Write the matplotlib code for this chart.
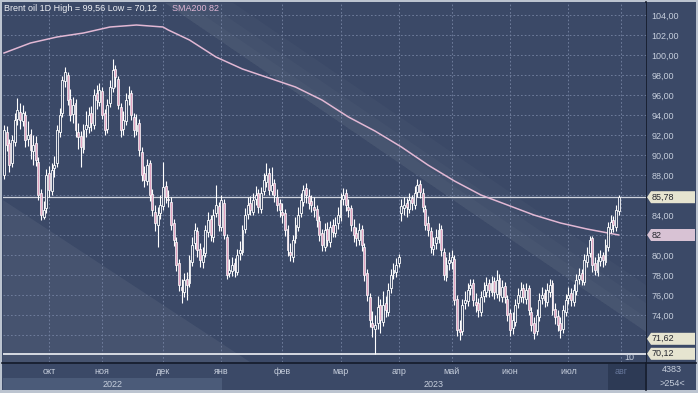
import matplotlib
matplotlib.use('Agg')
import matplotlib.pyplot as plt
import matplotlib.transforms as mtransforms
from matplotlib.patches import Polygon, Rectangle

plt.rcParams['font.family'] = ['Liberation Sans', 'DejaVu Sans']

# daily Brent candles, Sep 2022 .. Jul 2023
opens = [88.0, 92.3, 91.2, 89.2, 91.3, 93.6, 94.3, 93.4, 94.0, 91.6,
         92.1, 90.4, 91.2, 89.3, 86.2, 83.8, 84.7, 88.2, 86.4, 88.7,
         89.2, 92.3, 94.2, 97.4, 98.0, 95.6, 94.1, 95.2, 92.3, 91.9,
         90.6, 92.6, 92.8, 94.2, 93.0, 96.2, 95.3, 96.4, 94.2, 92.6,
         95.2, 96.7, 98.6, 97.6, 94.8, 92.6, 93.4, 95.7, 96.2, 93.8,
         92.4, 93.2, 90.3, 88.2, 87.4, 89.2, 86.1, 84.3, 83.0, 84.2,
         84.9, 86.9, 85.6, 85.3, 83.2, 81.3, 79.2, 76.8, 76.3, 77.6,
         77.2, 79.3, 81.2, 82.4, 80.6, 79.3, 80.2, 82.3, 83.6, 81.8,
         84.2, 84.9, 82.8, 85.2, 81.8, 78.2, 78.4, 79.2, 78.3, 80.2,
         80.3, 82.6, 84.1, 85.2, 84.3, 85.6, 86.2, 84.6, 86.4, 87.3,
         88.2, 86.4, 87.2, 85.8, 85.2, 84.3, 84.2, 82.6, 80.3, 79.8,
         81.7, 82.8, 84.2, 85.3, 86.7, 85.9, 85.4, 84.8, 84.6, 83.4,
         82.2, 80.8, 82.6, 81.3, 83.0, 82.2, 83.2, 83.8, 85.6, 86.2,
         84.8, 84.7, 82.8, 82.2, 81.5, 82.6, 80.8, 78.2, 75.8, 73.2,
         72.6, 73.2, 75.0, 73.3, 75.2, 74.3, 76.7, 78.2, 78.3, 79.2,
         84.2, 84.7, 85.2, 84.6, 85.7, 85.0, 86.3, 87.1, 86.2, 84.6,
         83.2, 82.4, 80.6, 81.2, 81.6, 82.6, 80.3, 77.8, 79.2, 79.3,
         79.6, 75.6, 72.6, 72.4, 75.2, 75.4, 76.7, 77.2, 75.3, 75.2,
         74.3, 75.9, 76.3, 77.2, 76.3, 77.4, 76.1, 77.7, 75.8, 76.9,
         75.6, 74.2, 72.7, 73.3, 75.2, 75.8, 76.7, 75.6, 76.7, 74.3,
         73.2, 72.4, 73.8, 75.7, 76.2, 75.3, 76.3, 77.2, 74.6, 73.9,
         73.2, 72.6, 74.3, 75.7, 76.2, 75.3, 76.4, 77.6, 78.2, 77.3,
         79.3, 80.2, 81.7, 79.2, 78.3, 79.4, 80.0, 79.3, 80.8, 82.6,
         83.5, 82.8, 84.4]
highs = [93.0, 92.9, 91.6, 92.0, 94.2, 95.7, 95.2, 95.0, 94.4, 93.4,
         92.6, 92.0, 91.9, 89.8, 86.6, 85.4, 88.6, 88.9, 89.2, 89.9,
         93.0, 94.7, 97.9, 98.8, 98.3, 96.6, 95.8, 95.6, 93.2, 92.4,
         93.1, 94.4, 94.8, 94.9, 96.6, 97.0, 97.2, 96.8, 94.6, 95.6,
         97.5, 99.56, 99.0, 97.9, 95.2, 94.4, 96.2, 96.9, 96.5, 94.2,
         94.1, 93.6, 90.8, 88.9, 89.6, 89.5, 86.6, 85.0, 84.8, 86.0,
         89.3, 87.4, 86.5, 85.8, 83.6, 81.8, 79.6, 77.6, 78.2, 78.3,
         80.0, 81.8, 83.2, 82.8, 81.2, 80.8, 83.0, 84.3, 84.0, 84.6,
         87.0, 85.3, 86.0, 85.6, 82.1, 79.6, 79.8, 79.7, 80.6, 81.4,
         83.0, 84.7, 85.8, 85.9, 86.2, 86.9, 86.6, 86.8, 88.2, 89.2,
         88.7, 88.8, 87.6, 86.6, 85.6, 85.2, 84.6, 83.0, 81.2, 82.0,
         83.8, 84.8, 86.2, 87.0, 87.2, 86.6, 86.0, 85.8, 85.0, 83.9,
         82.6, 83.2, 83.3, 83.4, 83.6, 83.8, 84.8, 86.2, 86.7, 86.6,
         85.6, 85.0, 83.6, 82.8, 83.2, 83.0, 81.2, 78.6, 76.2, 74.4,
         74.0, 75.9, 75.6, 76.4, 75.9, 77.2, 78.6, 79.2, 79.7, 80.1,
         85.6, 85.8, 85.7, 86.2, 86.0, 86.9, 87.6, 87.5, 86.7, 85.0,
         83.9, 82.8, 81.8, 82.6, 83.2, 83.0, 80.7, 79.8, 80.3, 80.5,
         80.0, 76.0, 73.5, 75.6, 76.4, 77.2, 77.6, 77.6, 76.2, 75.7,
         76.4, 77.3, 77.8, 77.6, 77.9, 77.8, 78.5, 78.1, 77.5, 77.3,
         76.0, 74.6, 74.3, 75.6, 76.7, 77.3, 77.1, 77.2, 77.0, 74.8,
         73.8, 74.6, 76.2, 76.8, 76.6, 77.2, 77.6, 77.5, 75.2, 74.5,
         73.8, 75.0, 76.1, 76.8, 76.7, 77.1, 78.1, 78.7, 78.6, 80.1,
         80.8, 81.9, 81.9, 79.8, 80.2, 80.5, 80.3, 81.6, 83.3, 84.0,
         83.9, 85.0, 86.0]
lows = [87.6, 90.4, 88.3, 88.8, 90.9, 93.0, 92.6, 92.9, 90.8, 90.9,
        89.6, 89.0, 88.9, 85.5, 83.5, 83.6, 84.2, 85.8, 86.0, 87.8,
        88.8, 91.8, 93.8, 96.8, 95.0, 93.4, 93.2, 91.8, 90.6, 88.8,
        90.2, 91.8, 92.2, 92.4, 92.6, 94.6, 94.9, 93.6, 92.0, 92.2,
        94.8, 96.3, 96.8, 94.6, 91.8, 92.0, 93.0, 95.0, 93.5, 91.8,
        92.0, 89.9, 87.4, 86.8, 87.0, 85.4, 83.9, 82.4, 80.8, 83.6,
        84.5, 85.2, 84.8, 82.5, 80.9, 78.4, 76.4, 75.2, 75.8, 75.5,
        76.8, 78.9, 80.6, 79.8, 78.8, 78.7, 79.8, 81.8, 81.4, 81.3,
        83.8, 82.4, 82.4, 81.6, 77.6, 77.8, 77.9, 77.8, 78.0, 79.5,
        80.0, 82.2, 83.6, 84.0, 84.0, 85.0, 84.2, 84.2, 86.0, 86.8,
        86.0, 86.0, 85.3, 84.4, 83.8, 83.2, 81.9, 79.9, 79.4, 79.3,
        81.2, 82.4, 83.8, 84.9, 85.2, 84.6, 84.3, 83.8, 82.8, 81.4,
        80.4, 80.4, 80.9, 80.8, 81.8, 81.8, 82.6, 83.4, 85.0, 84.4,
        83.8, 82.4, 81.3, 80.9, 81.0, 80.4, 77.4, 75.4, 72.8, 71.8,
        70.12, 72.6, 72.2, 72.9, 73.8, 73.9, 76.2, 77.6, 77.8, 78.8,
        83.4, 84.0, 83.8, 84.2, 84.5, 84.6, 85.8, 85.7, 84.3, 82.5,
        81.9, 80.2, 80.0, 80.6, 81.2, 79.9, 77.5, 77.4, 78.5, 78.6,
        75.0, 71.9, 71.5, 72.0, 74.6, 74.9, 76.0, 74.9, 74.3, 73.8,
        73.9, 75.3, 75.8, 75.8, 75.9, 75.6, 75.7, 75.4, 75.3, 75.2,
        73.4, 71.9, 72.1, 72.9, 74.7, 75.3, 75.2, 75.1, 74.0, 72.4,
        71.6, 72.0, 73.4, 75.1, 74.8, 74.9, 75.8, 74.0, 73.1, 72.4,
        71.7, 72.2, 73.9, 75.1, 74.9, 74.9, 76.0, 77.1, 77.0, 77.0,
        78.8, 79.8, 78.3, 78.0, 77.9, 78.9, 78.8, 79.0, 80.4, 82.2,
        82.3, 82.4, 84.0]
closes = [92.5, 91.0, 89.0, 91.5, 93.5, 94.5, 93.5, 94.2, 91.5, 92.0,
          90.5, 91.0, 89.5, 86.0, 84.0, 84.5, 88.0, 86.5, 88.5, 89.0,
          92.5, 94.0, 97.5, 98.3, 95.5, 94.0, 95.0, 92.5, 91.8, 90.8,
          92.5, 93.0, 94.0, 93.2, 96.0, 95.5, 96.5, 94.0, 92.5, 95.0,
          96.8, 98.5, 97.8, 95.0, 92.5, 93.5, 95.5, 96.0, 94.0, 92.5,
          93.0, 90.5, 88.0, 87.5, 89.0, 86.0, 84.5, 83.2, 84.0, 85.0,
          86.8, 85.8, 85.5, 83.0, 81.5, 79.0, 77.0, 76.5, 77.5, 77.0,
          79.5, 81.0, 82.5, 80.5, 79.5, 80.0, 82.5, 83.5, 82.0, 84.0,
          85.0, 83.0, 85.5, 82.0, 78.0, 78.5, 79.0, 78.5, 80.0, 80.5,
          82.5, 84.0, 85.0, 84.5, 85.5, 86.0, 84.8, 86.2, 87.5, 88.0,
          86.5, 87.0, 86.0, 85.0, 84.5, 84.0, 82.5, 80.5, 80.0, 81.5,
          83.0, 84.0, 85.5, 86.5, 86.0, 85.2, 85.0, 84.5, 83.5, 82.0,
          81.0, 82.5, 81.5, 82.8, 82.3, 83.0, 84.0, 85.5, 86.0, 85.0,
          84.5, 83.0, 82.0, 81.7, 82.5, 81.0, 78.0, 76.0, 73.5, 72.8,
          73.0, 74.8, 73.5, 75.0, 74.5, 76.5, 78.0, 78.5, 79.0, 79.8,
          84.9, 85.0, 84.8, 85.5, 85.2, 86.2, 87.0, 86.3, 84.8, 83.0,
          82.5, 80.8, 81.0, 81.8, 82.5, 80.5, 78.0, 79.0, 79.5, 79.8,
          75.5, 72.5, 72.3, 75.0, 75.5, 76.5, 77.0, 75.5, 75.0, 74.5,
          75.8, 76.5, 77.0, 76.5, 77.2, 76.3, 77.5, 76.0, 76.8, 75.8,
          74.0, 72.5, 73.5, 75.0, 76.0, 76.5, 75.8, 76.5, 74.5, 73.0,
          72.2, 74.0, 75.5, 76.0, 75.5, 76.5, 77.0, 74.5, 73.8, 73.0,
          72.5, 74.5, 75.5, 76.0, 75.5, 76.5, 77.5, 78.0, 77.5, 79.5,
          80.0, 81.5, 79.0, 78.5, 79.5, 79.8, 79.5, 81.0, 82.8, 83.3,
          83.0, 84.5, 85.78]

# SMA200 read at every ~10th bar
sma_idx = [0, 10, 20, 30, 40, 50, 60, 62, 70, 80, 90, 100, 110, 120, 130,
           140, 150, 160, 170, 180, 190, 200, 210, 220, 232]
sma_val = [100.2, 101.2, 101.8, 102.2, 102.8, 103.0, 102.8, 102.5, 101.5,
           99.8, 98.6, 97.7, 96.8, 95.5, 93.8, 92.4, 90.8, 89.0, 87.4, 86.0,
           85.0, 84.0, 83.2, 82.6, 82.0]

month_idx = [17, 37, 60, 82, 105, 127, 149, 169, 191, 213, 233]
month_lbl = ['окт', 'ноя', 'дек', 'янв', 'фев', 'мар', 'апр', 'май', 'июн', 'июл', 'авг']
year_lbl = ['2022', '2023']

last_price = 85.78
sma_last = 82
tag_71 = 71.62
low_price = 70.12

BG = '#3b4967'
TXT = '#c6cedc'
W, H = 698, 393

fig = plt.figure(figsize=(W / 100, H / 100), dpi=100, facecolor='#bcc4d0')

# window chrome in pixel coordinates
bg = fig.add_axes([0, 0, 1, 1])
bg.set_xlim(0, W)
bg.set_ylim(H, 0)
bg.axis('off')
def box(x0, y0, x1, y1, c):
    bg.add_patch(Rectangle((x0, y0), x1 - x0, y1 - y0, facecolor=c, edgecolor='none'))
box(2, 2, 696, 390, BG)
box(3, 378, 222, 390, '#4b5b79')
box(608, 364, 645, 390, '#2d3a55')
bg.plot([646, 646], [2, 390], color='#141b2a', lw=1.2)
bg.plot([2, 696], [362.5, 362.5], color='#141b2a', lw=1.2)

ax = fig.add_axes([3 / W, 31 / H, 643 / W, 359 / H])
ax.set_facecolor(BG)
for s in ax.spines.values():
    s.set_visible(False)

# channel shading
slope = (1 - 0.084) / (1 - 0.252)
for d in [0.04, 0.08, 0.13]:
    ax.add_patch(Polygon([(0.252, 1), (1, 0.084), (1, 0.084 + d), (0.252 + d / slope, 1)],
                         closed=True, transform=ax.transAxes, facecolor='white',
                         alpha=0.025, edgecolor='none', zorder=0.5))
ax.add_patch(Polygon([(0, 0.451), (0.384, 0), (0, 0)], closed=True, transform=ax.transAxes,
                     facecolor='white', alpha=0.06, edgecolor='none', zorder=0.5))

# candles
n = len(closes)
idx = list(range(n))
ax.vlines(idx, lows, highs, color='white', lw=0.8, zorder=3)
up = [i for i in idx if closes[i] >= opens[i]]
dn = [i for i in idx if closes[i] < opens[i]]
ax.bar(up, [closes[i] - opens[i] for i in up], bottom=[opens[i] for i in up], width=0.72,
       facecolor=BG, edgecolor='white', lw=0.6, zorder=4)
ax.bar(dn, [opens[i] - closes[i] for i in dn], bottom=[closes[i] for i in dn], width=0.72,
       facecolor='#e2a4c2', edgecolor='white', lw=0.5, zorder=4)

ax.plot(sma_idx, sma_val, color='#e2b8d4', lw=1.1, zorder=2.8)
ax.axhline(last_price, color='#d0d4de', lw=0.9, zorder=2.7)
ax.axhline(low_price, color='#f0f2f6', lw=1.2, zorder=2.7)

ax.set_xlim(-0.38, 242.3)
ax.set_ylim(69.3, 105.2)

# scale labels hidden behind the price tags are left blank
yt = list(range(72, 106, 2))
hidden = [82, 86]
ax.set_yticks(yt)
ax.set_yticklabels(['' if v in hidden else f'{v:.2f}'.replace('.', ',') for v in yt])
ax.yaxis.tick_right()
ax.tick_params(axis='y', length=0, pad=4, labelsize=6.5, labelcolor=TXT)
ax.set_xticks(month_idx)
ax.set_xticklabels(month_lbl)
ax.tick_params(axis='x', length=0, pad=3.5, labelsize=6.5, labelcolor=TXT)
ax.get_xticklabels()[-1].set_color('#66769a')
ax.grid(True, color='#7684a3', ls=(0, (2, 2.5)), lw=0.6, zorder=1)

blend = mtransforms.blended_transform_factory(ax.transData, ax.transAxes)
x0, x1 = ax.get_xlim()
ax.text((x0 + month_idx[3]) / 2, -0.062, year_lbl[0], transform=blend, ha='center',
        va='center', fontsize=6.5, color=TXT, clip_on=False)
ax.text((month_idx[3] + x1) / 2, -0.062, year_lbl[1], transform=blend, ha='center',
        va='center', fontsize=6.5, color=TXT, clip_on=False)

# price tags on the right scale
ident = mtransforms.IdentityTransform()
def tag(val, text, fc):
    yd = ax.transData.transform((0, val))[1]
    ax.add_artist(Polygon([(647, yd), (651, yd + 6), (695, yd + 6), (695, yd - 6), (651, yd - 6)],
                          closed=True, transform=ident, facecolor=fc, edgecolor='none',
                          clip_on=False, zorder=10))
    ax.text(652, yd, text, transform=ident, ha='left', va='center', fontsize=6.5,
            color='#24262e', clip_on=False, zorder=11)
tag(last_price, f'{last_price:.2f}'.replace('.', ','), '#e6e4d0')
tag(sma_last, str(sma_last), '#d8c2d4')
tag(tag_71, f'{tag_71:.2f}'.replace('.', ','), '#e6e4d0')
tag(low_price, f'{low_price:.2f}'.replace('.', ','), '#e6e4d0')

def px(x, y):
    return x / W, 1 - y / H
fig.text(*px(4, 8.5), 'Brent oil 1D High = 99,56 Low = 70,12', fontsize=6.5,
         color='#eef0f5', va='center', ha='left', zorder=20)
fig.text(*px(172, 8.5), f'SMA200 {sma_last}', fontsize=6.5, color='#dfb6d4',
         va='center', ha='left', zorder=20)
fig.text(*px(629, 357), '10', fontsize=6.5, color=TXT, va='center', ha='center', zorder=20)
fig.text(*px(672, 370), '4383', fontsize=6.5, color=TXT, va='center', ha='center', zorder=20)
fig.text(*px(672, 384), '>254<', fontsize=6.5, color=TXT, va='center', ha='center', zorder=20)

fig.savefig('out.png', dpi=100, facecolor=fig.get_facecolor())
